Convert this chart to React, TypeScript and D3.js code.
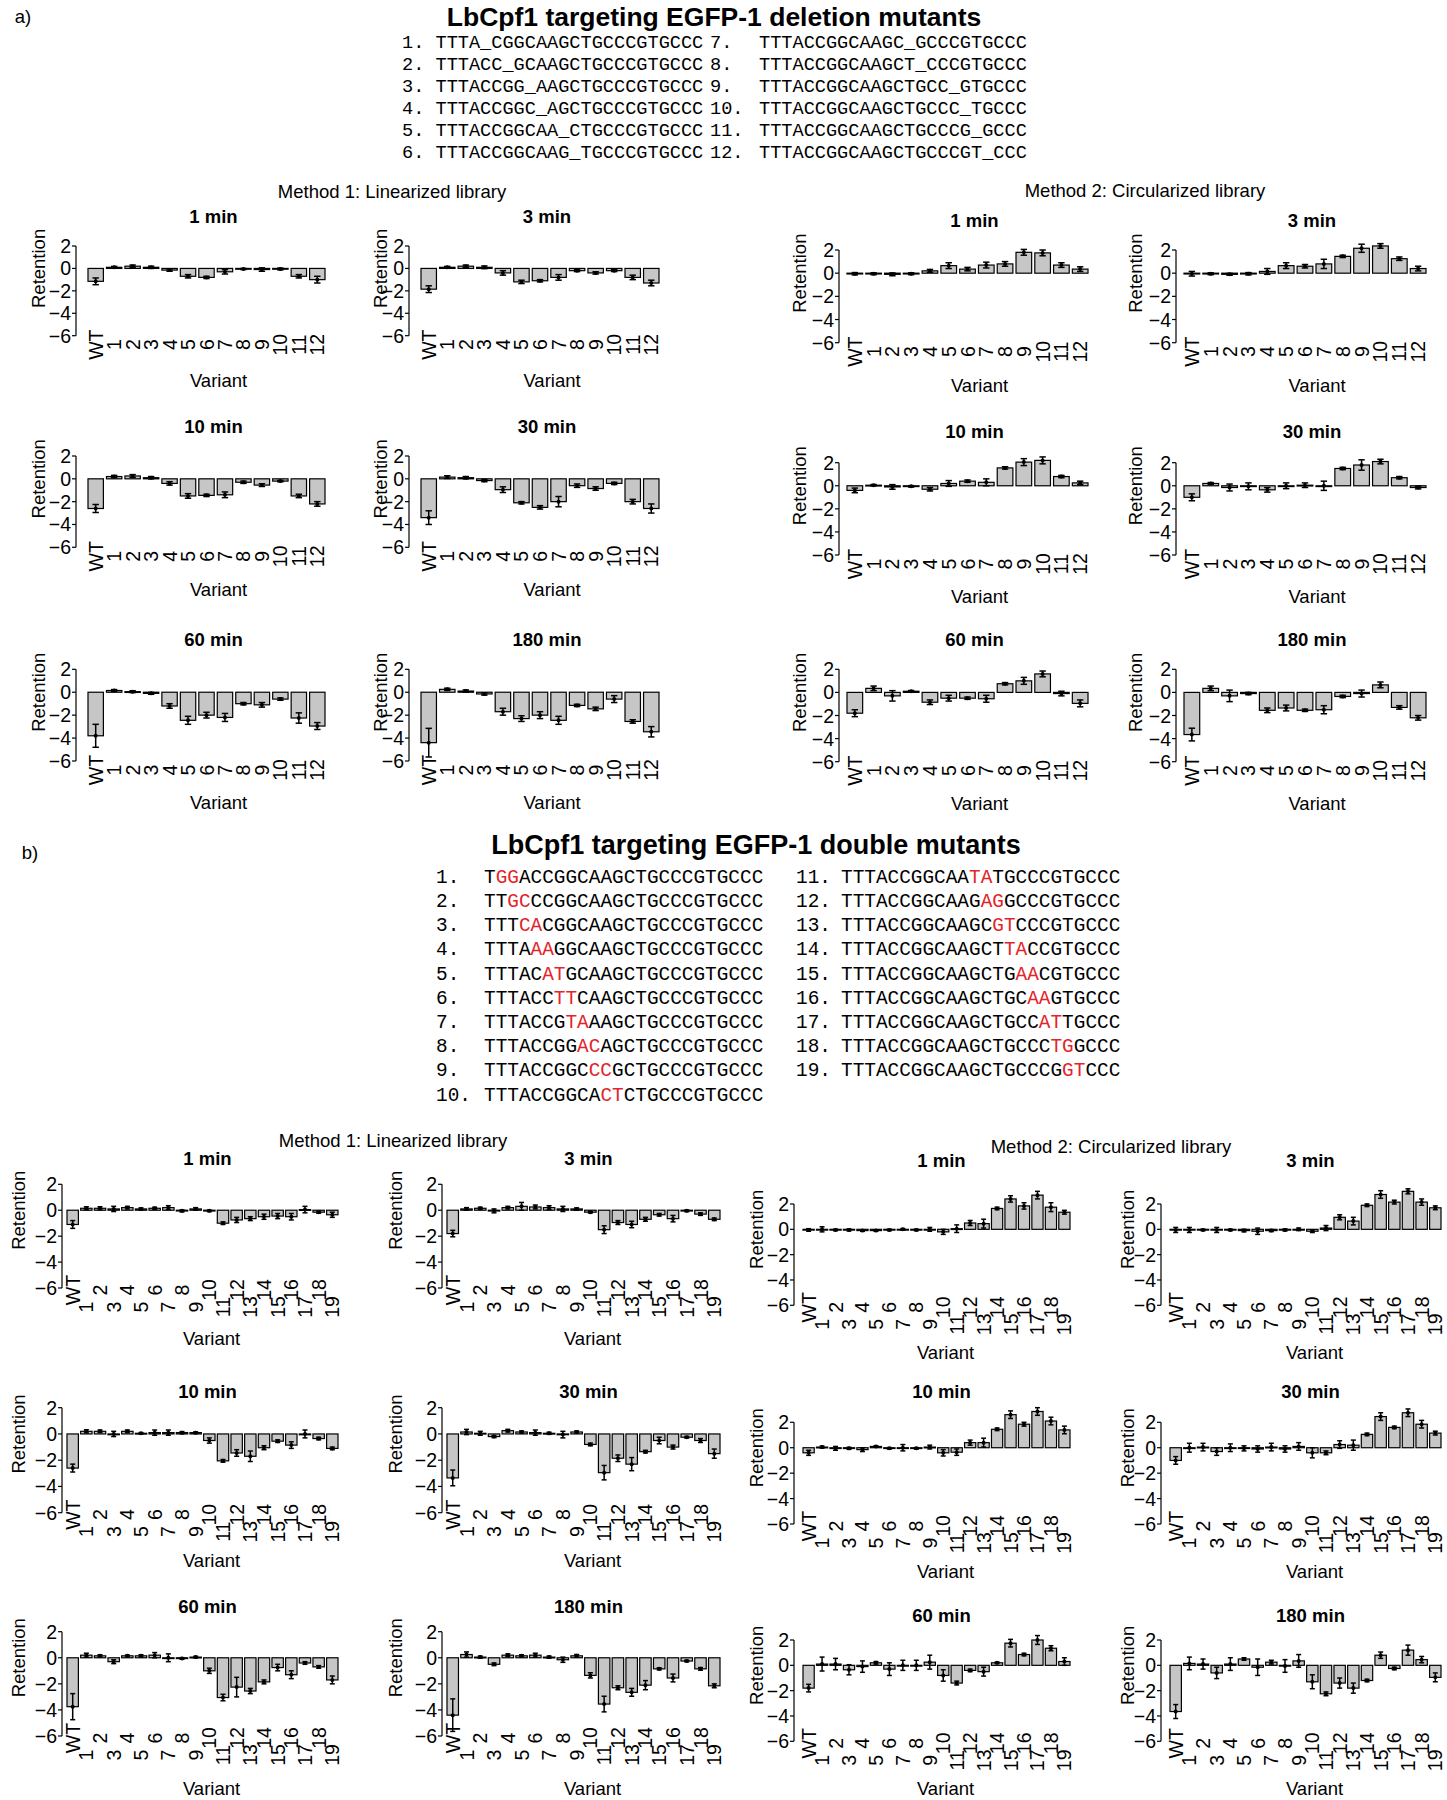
import React from "react";
import * as d3 from "d3";

// ---------- categories / labels ----------
const VARIANTS_A = ["WT", "1", "2", "3", "4", "5", "6", "7", "8", "9", "10", "11", "12"];
const VARIANTS_B = ["WT", "1", "2", "3", "4", "5", "6", "7", "8", "9", "10", "11", "12", "13", "14", "15", "16", "17", "18", "19"];
const Y_TICKS = [-6, -4, -2, 0, 2];
const TIMES = ["1 min", "3 min", "10 min", "30 min", "60 min", "180 min"];
const METHODS = ["Method 1: Linearized library", "Method 2: Circularized library"];

const DELETION_SEQS = [
  "TTTA_CGGCAAGCTGCCCGTGCCC",
  "TTTACC_GCAAGCTGCCCGTGCCC",
  "TTTACCGG_AAGCTGCCCGTGCCC",
  "TTTACCGGC_AGCTGCCCGTGCCC",
  "TTTACCGGCAA_CTGCCCGTGCCC",
  "TTTACCGGCAAG_TGCCCGTGCCC",
  "TTTACCGGCAAGC_GCCCGTGCCC",
  "TTTACCGGCAAGCT_CCCGTGCCC",
  "TTTACCGGCAAGCTGCC_GTGCCC",
  "TTTACCGGCAAGCTGCCC_TGCCC",
  "TTTACCGGCAAGCTGCCCG_GCCC",
  "TTTACCGGCAAGCTGCCCGT_CCC",
];

const DOUBLE_SEQS = [
  "TGGACCGGCAAGCTGCCCGTGCCC",
  "TTGCCCGGCAAGCTGCCCGTGCCC",
  "TTTCACGGCAAGCTGCCCGTGCCC",
  "TTTAAAGGCAAGCTGCCCGTGCCC",
  "TTTACATGCAAGCTGCCCGTGCCC",
  "TTTACCTTCAAGCTGCCCGTGCCC",
  "TTTACCGTAAAGCTGCCCGTGCCC",
  "TTTACCGGACAGCTGCCCGTGCCC",
  "TTTACCGGCCCGCTGCCCGTGCCC",
  "TTTACCGGCACTCTGCCCGTGCCC",
  "TTTACCGGCAATATGCCCGTGCCC",
  "TTTACCGGCAAGAGGCCCGTGCCC",
  "TTTACCGGCAAGCGTCCCGTGCCC",
  "TTTACCGGCAAGCTTACCGTGCCC",
  "TTTACCGGCAAGCTGAACGTGCCC",
  "TTTACCGGCAAGCTGCAAGTGCCC",
  "TTTACCGGCAAGCTGCCATTGCCC",
  "TTTACCGGCAAGCTGCCCTGGCCC",
  "TTTACCGGCAAGCTGCCCGGTCCC",
];
// 0-based index of the first mutated base (two bases are mutated)
const DOUBLE_MUT_START = [1, 2, 3, 4, 5, 6, 7, 8, 9, 10, 11, 12, 13, 14, 15, 16, 17, 18, 19];

// ---------- a) deletion mutants: values (WT,1..12) and error ----------
const A_M1_1 = [-1.15, 0.1, 0.2, 0.1, -0.15, -0.7, -0.8, -0.3, -0.05, -0.1, -0.05, -0.7, -1.0];
const A_M1_1_ERR = [0.3, 0.08, 0.1, 0.1, 0.1, 0.15, 0.1, 0.2, 0.05, 0.15, 0.08, 0.15, 0.3];
const A_M1_3 = [-1.85, 0.1, 0.2, 0.1, -0.4, -1.2, -1.1, -0.8, -0.2, -0.4, -0.2, -0.8, -1.3];
const A_M1_3_ERR = [0.3, 0.08, 0.1, 0.12, 0.2, 0.15, 0.1, 0.25, 0.08, 0.1, 0.08, 0.2, 0.25];
const A_M1_10 = [-2.6, 0.2, 0.25, 0.1, -0.4, -1.5, -1.45, -1.4, -0.3, -0.55, -0.2, -1.5, -2.2];
const A_M1_10_ERR = [0.35, 0.1, 0.12, 0.1, 0.15, 0.2, 0.1, 0.25, 0.1, 0.12, 0.06, 0.15, 0.2];
const A_M1_30 = [-3.4, 0.15, 0.1, -0.15, -0.95, -2.1, -2.5, -2.0, -0.6, -0.85, -0.4, -2.0, -2.6];
const A_M1_30_ERR = [0.6, 0.12, 0.1, 0.1, 0.25, 0.1, 0.15, 0.45, 0.15, 0.15, 0.1, 0.2, 0.4];
const A_M1_60 = [-3.8, 0.15, 0.05, -0.1, -1.2, -2.45, -2.0, -2.2, -1.0, -1.1, -0.6, -2.25, -2.95];
const A_M1_60_ERR = [1.0, 0.08, 0.08, 0.08, 0.2, 0.35, 0.25, 0.35, 0.1, 0.2, 0.1, 0.45, 0.3];
const A_M1_180 = [-4.4, 0.25, 0.1, -0.15, -1.7, -2.3, -2.0, -2.45, -1.15, -1.45, -0.6, -2.55, -3.45];
const A_M1_180_ERR = [1.25, 0.1, 0.1, 0.1, 0.3, 0.25, 0.3, 0.35, 0.1, 0.15, 0.3, 0.15, 0.45];

const A_M2_1 = [-0.05, -0.05, -0.1, -0.05, 0.2, 0.65, 0.35, 0.7, 0.8, 1.8, 1.75, 0.7, 0.35];
const A_M2_1_ERR = [0.1, 0.08, 0.12, 0.08, 0.12, 0.25, 0.15, 0.25, 0.2, 0.25, 0.25, 0.2, 0.2];
const A_M2_3 = [-0.05, -0.05, -0.1, -0.05, 0.15, 0.65, 0.6, 0.8, 1.45, 2.15, 2.35, 1.25, 0.4];
const A_M2_3_ERR = [0.2, 0.08, 0.08, 0.1, 0.25, 0.25, 0.15, 0.4, 0.1, 0.35, 0.2, 0.15, 0.2];
const A_M2_10 = [-0.4, 0.05, -0.1, -0.05, -0.3, 0.2, 0.4, 0.3, 1.55, 2.05, 2.2, 0.8, 0.25];
const A_M2_10_ERR = [0.2, 0.06, 0.2, 0.06, 0.15, 0.25, 0.1, 0.3, 0.1, 0.3, 0.3, 0.1, 0.15];
const A_M2_30 = [-1.0, 0.2, -0.15, -0.05, -0.35, 0.0, 0.05, 0.0, 1.5, 1.8, 2.1, 0.7, -0.15];
const A_M2_30_ERR = [0.3, 0.08, 0.3, 0.3, 0.2, 0.25, 0.2, 0.4, 0.1, 0.45, 0.2, 0.1, 0.12];
const A_M2_60 = [-1.8, 0.35, -0.3, 0.1, -0.85, -0.5, -0.5, -0.55, 0.75, 1.0, 1.6, -0.1, -0.95];
const A_M2_60_ERR = [0.3, 0.2, 0.45, 0.06, 0.2, 0.25, 0.1, 0.3, 0.1, 0.3, 0.25, 0.2, 0.3];
const A_M2_180 = [-3.65, 0.35, -0.3, -0.1, -1.55, -1.35, -1.55, -1.5, -0.35, -0.1, 0.65, -1.3, -2.2];
const A_M2_180_ERR = [0.55, 0.2, 0.5, 0.1, 0.2, 0.25, 0.1, 0.35, 0.1, 0.3, 0.25, 0.15, 0.2];

// ---------- b) double mutants: values (WT,1..19) and error ----------
const B_M1_1 = [-1.1, 0.15, 0.15, 0.1, 0.2, 0.1, 0.15, 0.2, -0.05, 0.1, -0.05, -1.0, -0.75, -0.65, -0.5, -0.45, -0.5, 0.05, -0.15, -0.35];
const B_M1_1_ERR = [0.3, 0.12, 0.12, 0.2, 0.1, 0.08, 0.08, 0.15, 0.08, 0.1, 0.06, 0.1, 0.2, 0.15, 0.2, 0.2, 0.25, 0.25, 0.08, 0.2];
const B_M1_3 = [-1.8, 0.1, 0.15, -0.05, 0.2, 0.3, 0.25, 0.2, 0.1, 0.1, -0.15, -1.5, -0.95, -1.1, -0.7, -0.35, -0.65, -0.05, -0.3, -0.7];
const B_M1_3_ERR = [0.25, 0.1, 0.08, 0.15, 0.1, 0.3, 0.15, 0.15, 0.2, 0.08, 0.06, 0.3, 0.15, 0.25, 0.15, 0.1, 0.25, 0.06, 0.1, 0.1];
const B_M1_10 = [-2.6, 0.2, 0.2, 0.0, 0.2, 0.05, 0.1, 0.1, 0.1, 0.1, -0.5, -2.05, -1.45, -1.7, -1.05, -0.55, -0.85, 0.0, -0.35, -1.1];
const B_M1_10_ERR = [0.3, 0.12, 0.1, 0.2, 0.1, 0.05, 0.2, 0.2, 0.08, 0.06, 0.2, 0.1, 0.25, 0.4, 0.15, 0.1, 0.25, 0.3, 0.1, 0.1];
const B_M1_30 = [-3.35, 0.15, 0.05, -0.2, 0.25, 0.15, 0.1, 0.05, -0.05, 0.15, -0.8, -2.95, -1.85, -2.3, -1.35, -0.5, -1.0, -0.25, -0.5, -1.5];
const B_M1_30_ERR = [0.6, 0.2, 0.15, 0.08, 0.1, 0.08, 0.2, 0.08, 0.25, 0.08, 0.1, 0.55, 0.25, 0.5, 0.1, 0.25, 0.15, 0.06, 0.15, 0.35];
const B_M1_60 = [-3.75, 0.2, 0.15, -0.3, 0.15, 0.15, 0.2, 0.0, -0.05, 0.05, -1.0, -3.05, -2.25, -2.55, -1.85, -0.75, -1.3, -0.4, -0.7, -1.7];
const B_M1_60_ERR = [1.0, 0.15, 0.08, 0.15, 0.06, 0.08, 0.2, 0.3, 0.06, 0.06, 0.2, 0.25, 0.75, 0.2, 0.15, 0.25, 0.3, 0.1, 0.1, 0.3];
const B_M1_180 = [-4.4, 0.25, 0.05, -0.5, 0.2, 0.15, 0.2, 0.05, -0.15, 0.15, -1.35, -3.55, -2.3, -2.65, -2.1, -0.85, -1.55, -0.25, -0.85, -2.15];
const B_M1_180_ERR = [1.25, 0.2, 0.08, 0.1, 0.1, 0.08, 0.15, 0.08, 0.2, 0.1, 0.2, 0.6, 0.15, 0.3, 0.35, 0.08, 0.3, 0.06, 0.1, 0.15];

const B_M2_1 = [-0.05, 0.0, -0.05, -0.05, -0.1, -0.1, -0.05, 0.0, -0.05, 0.0, -0.2, 0.05, 0.5, 0.45, 1.65, 2.4, 1.85, 2.7, 1.75, 1.35];
const B_M2_1_ERR = [0.1, 0.2, 0.06, 0.08, 0.06, 0.06, 0.06, 0.06, 0.06, 0.15, 0.2, 0.3, 0.2, 0.35, 0.1, 0.25, 0.25, 0.3, 0.35, 0.15];
const B_M2_3 = [-0.05, -0.05, -0.05, -0.05, -0.05, -0.1, -0.15, -0.1, -0.05, 0.0, -0.15, 0.1, 0.95, 0.65, 1.9, 2.75, 2.15, 3.0, 2.15, 1.7];
const B_M2_3_ERR = [0.2, 0.2, 0.06, 0.2, 0.06, 0.1, 0.25, 0.08, 0.08, 0.1, 0.1, 0.2, 0.2, 0.3, 0.1, 0.3, 0.15, 0.2, 0.25, 0.15];
const B_M2_10 = [-0.4, 0.05, -0.05, -0.05, -0.15, 0.1, -0.05, 0.0, -0.05, 0.05, -0.4, -0.35, 0.4, 0.4, 1.45, 2.6, 1.85, 2.85, 2.1, 1.4];
const B_M2_10_ERR = [0.2, 0.08, 0.15, 0.08, 0.15, 0.06, 0.06, 0.25, 0.06, 0.15, 0.25, 0.25, 0.2, 0.35, 0.1, 0.3, 0.15, 0.3, 0.3, 0.3];
const B_M2_30 = [-1.0, 0.0, 0.05, -0.3, 0.0, -0.05, -0.1, 0.05, -0.1, 0.1, -0.4, -0.4, 0.25, 0.2, 1.05, 2.45, 1.6, 2.75, 1.85, 1.15];
const B_M2_30_ERR = [0.3, 0.35, 0.3, 0.3, 0.3, 0.2, 0.25, 0.3, 0.25, 0.3, 0.4, 0.15, 0.3, 0.4, 0.1, 0.3, 0.1, 0.3, 0.3, 0.15];
const B_M2_60 = [-1.8, 0.1, 0.1, -0.35, -0.1, 0.2, -0.3, 0.0, 0.0, 0.25, -0.8, -1.4, -0.4, -0.5, 0.2, 1.75, 0.85, 2.0, 1.35, 0.3];
const B_M2_60_ERR = [0.3, 0.55, 0.45, 0.4, 0.45, 0.1, 0.5, 0.4, 0.4, 0.55, 0.45, 0.15, 0.1, 0.35, 0.06, 0.3, 0.1, 0.35, 0.2, 0.3];
const B_M2_180 = [-3.65, 0.15, 0.1, -0.6, 0.1, 0.5, -0.15, 0.25, -0.05, 0.35, -1.3, -2.25, -1.4, -1.8, -1.2, 0.8, -0.25, 1.2, 0.45, -0.95];
const B_M2_180_ERR = [0.55, 0.5, 0.4, 0.45, 0.5, 0.1, 0.65, 0.15, 0.5, 0.5, 0.55, 0.15, 0.4, 0.4, 0.1, 0.25, 0.1, 0.4, 0.25, 0.35];

const A_M1 = [[A_M1_1, A_M1_1_ERR], [A_M1_3, A_M1_3_ERR], [A_M1_10, A_M1_10_ERR], [A_M1_30, A_M1_30_ERR], [A_M1_60, A_M1_60_ERR], [A_M1_180, A_M1_180_ERR]];
const A_M2 = [[A_M2_1, A_M2_1_ERR], [A_M2_3, A_M2_3_ERR], [A_M2_10, A_M2_10_ERR], [A_M2_30, A_M2_30_ERR], [A_M2_60, A_M2_60_ERR], [A_M2_180, A_M2_180_ERR]];
const B_M1 = [[B_M1_1, B_M1_1_ERR], [B_M1_3, B_M1_3_ERR], [B_M1_10, B_M1_10_ERR], [B_M1_30, B_M1_30_ERR], [B_M1_60, B_M1_60_ERR], [B_M1_180, B_M1_180_ERR]];
const B_M2 = [[B_M2_1, B_M2_1_ERR], [B_M2_3, B_M2_3_ERR], [B_M2_10, B_M2_10_ERR], [B_M2_30, B_M2_30_ERR], [B_M2_60, B_M2_60_ERR], [B_M2_180, B_M2_180_ERR]];

// ---------- layout (pixels) ----------
const W = 1447;
const H = 1800;
const SANS = "'Liberation Sans', Arial, Helvetica, sans-serif";
const MONO = "'Liberation Mono', 'Courier New', Courier, monospace";
const BAR_FILL = "#c6c6c6";
const TICK_FS = 19.5;
const LAB_FS = 18.5;

const A_COLS = [
  { x0: 88, x1: 325, retX: 38, gap: 12 },
  { x0: 421, x1: 659, retX: 380, gap: 12 },
  { x0: 847, x1: 1088, retX: 799, gap: 8 },
  { x0: 1184, x1: 1426, retX: 1135, gap: 8 },
];
const A_ROWS_M1 = [
  { yTop: 246, yBot: 335.7, titleY: 216.7, varY: 380 },
  { yTop: 456, yBot: 547.3, titleY: 426, varY: 589.3 },
  { yTop: 669.3, yBot: 761, titleY: 639.3, varY: 802.7 },
];
const A_ROWS_M2 = [
  { yTop: 250, yBot: 342.7, titleY: 220, varY: 385 },
  { yTop: 462.7, yBot: 555, titleY: 431.7, varY: 596.7 },
  { yTop: 669.3, yBot: 761.7, titleY: 639.3, varY: 803 },
];
const B_COLS = [
  { x0: 67, x1: 338, retX: 18, gap: 5 },
  { x0: 447, x1: 720, retX: 395, gap: 5 },
  { x0: 803, x1: 1070, retX: 756, gap: 9 },
  { x0: 1170, x1: 1441, retX: 1127, gap: 9 },
];
const B_ROWS_M1 = [
  { yTop: 1184.3, yBot: 1288, titleY: 1158.7, varY: 1338 },
  { yTop: 1407.7, yBot: 1512.7, titleY: 1391.7, varY: 1560 },
  { yTop: 1631.7, yBot: 1736, titleY: 1606.7, varY: 1788 },
];
const B_ROWS_M2 = [
  { yTop: 1204, yBot: 1305.3, titleY: 1160, varY: 1352.8 },
  { yTop: 1422.3, yBot: 1524, titleY: 1391.7, varY: 1571 },
  { yTop: 1640, yBot: 1741.3, titleY: 1615, varY: 1788 },
];

type PanelSpec = {
  key: string;
  title: string;
  variants: string[];
  values: number[];
  errors: number[];
  x0: number;
  x1: number;
  yTop: number;
  yBot: number;
  retX: number;
  gap: number;
  titleY: number;
  varY: number;
  titleDx: number;
  varDx: number;
  stagger: boolean;
};

function buildPanels(): PanelSpec[] {
  const out: PanelSpec[] = [];
  const add = (sec: string, data: number[][][], cols: any[], rows: any[], colOffset: number, variants: string[], stagger: boolean) => {
    data.forEach(([vals, errs], t) => {
      const r = rows[Math.floor(t / 2)];
      const c = cols[colOffset + (t % 2)];
      out.push({
        key: sec + colOffset + "-" + t,
        title: TIMES[t],
        variants,
        values: vals,
        errors: errs,
        x0: c.x0,
        x1: c.x1,
        retX: c.retX,
        gap: c.gap,
        yTop: r.yTop,
        yBot: r.yBot,
        titleY: r.titleY,
        varY: r.varY,
        titleDx: stagger ? 5 : 7,
        varDx: stagger ? 9 : 12,
        stagger,
      });
    });
  };
  add("a", A_M1, A_COLS, A_ROWS_M1, 0, VARIANTS_A, false);
  add("a", A_M2, A_COLS, A_ROWS_M2, 2, VARIANTS_A, false);
  add("b", B_M1, B_COLS, B_ROWS_M1, 0, VARIANTS_B, true);
  add("b", B_M2, B_COLS, B_ROWS_M2, 2, VARIANTS_B, true);
  return out;
}

function Panel({ p }: { p: PanelSpec }) {
  const x = d3
    .scaleBand<string>()
    .domain(p.variants)
    .range([p.x0, p.x1])
    .paddingInner(0.2 / 1.2)
    .paddingOuter(0);
  const y = d3.scaleLinear().domain([-6, 2]).range([p.yBot, p.yTop]);
  const axisX = p.x0 - p.gap;
  const bw = x.bandwidth();
  const cap = Math.min(3.2, bw * 0.22);
  const cx = (p.x0 + p.x1) / 2;
  return (
    <g>
      {/* title */}
      <text x={cx + p.titleDx} y={p.titleY} dy="0.36em" textAnchor="middle" fontFamily={SANS} fontWeight="bold" fontSize={LAB_FS}>
        {p.title}
      </text>
      {/* y axis */}
      <line x1={axisX} x2={axisX} y1={y(2)} y2={y(-6)} stroke="#000" strokeWidth={1.2} />
      {Y_TICKS.map((t) => (
        <g key={t}>
          <line x1={axisX - 4} x2={axisX} y1={y(t)} y2={y(t)} stroke="#000" strokeWidth={1.2} />
          <text x={axisX - 5} y={y(t)} dy="0.36em" textAnchor="end" fontFamily={SANS} fontSize={TICK_FS}>
            {t < 0 ? "\u2212" + Math.abs(t) : String(t)}
          </text>
        </g>
      ))}
      <text
        transform={`translate(${p.retX},${y(0)}) rotate(-90)`}
        dy="0.36em"
        textAnchor="middle"
        fontFamily={SANS}
        fontSize={LAB_FS}
      >
        Retention
      </text>
      {/* bars */}
      {p.variants.map((v, i) => {
        const val = p.values[i];
        const bx = x(v) as number;
        const y0 = y(0);
        const y1 = y(val);
        return (
          <rect
            key={v}
            x={bx}
            width={bw}
            y={Math.min(y0, y1)}
            height={Math.max(0.8, Math.abs(y1 - y0))}
            fill={BAR_FILL}
            stroke="#000"
            strokeWidth={1.2}
          />
        );
      })}
      {/* error bars */}
      {p.variants.map((v, i) => {
        const val = p.values[i];
        const e = p.errors[i];
        const mx = (x(v) as number) + bw / 2;
        const yl = y(val - e);
        const yh = y(val + e);
        return (
          <g key={"e" + v} stroke="#000" strokeWidth={1.5}>
            <line x1={mx} x2={mx} y1={yl} y2={yh} />
            <line x1={mx - cap} x2={mx + cap} y1={yl} y2={yl} />
            <line x1={mx - cap} x2={mx + cap} y1={yh} y2={yh} />
            <circle cx={mx} cy={y(val)} r={2} fill="#000" stroke="none" />
          </g>
        );
      })}
      {/* x labels */}
      {p.variants.map((v, i) => {
        const mx = (x(v) as number) + bw / 2;
        const cy = p.stagger ? y(-6) + (i % 2 === 0 ? 2 : 19) : y(-6) + 9;
        return (
          <text
            key={"l" + v}
            transform={`translate(${mx},${cy}) rotate(-90)`}
            dy="0.36em"
            textAnchor="middle"
            fontFamily={SANS}
            fontSize={TICK_FS}
          >
            {v}
          </text>
        );
      })}
      <text x={cx + p.varDx} y={p.varY} dy="0.36em" textAnchor="middle" fontFamily={SANS} fontSize={LAB_FS}>
        Variant
      </text>
    </g>
  );
}

function DeletionSeqs() {
  const fs = 18.6;
  const cw = fs * 0.6;
  const rowY = (i: number) => 42.5 + 21.96 * i;
  return (
    <g fontFamily={MONO} fontSize={fs}>
      {DELETION_SEQS.map((s, i) => {
        const col = i < 6 ? 0 : 1;
        const r = i % 6;
        const lx = col === 0 ? 402 : 710;
        const sx = col === 0 ? 402 + 3 * cw : 759;
        return (
          <g key={i}>
            <text x={lx} y={rowY(r)} dy="0.32em">{`${i + 1}.`}</text>
            <text x={sx} y={rowY(r)} dy="0.32em">{s}</text>
          </g>
        );
      })}
    </g>
  );
}

function DoubleSeqs() {
  const fs = 19.4;
  const rowY = (i: number) => 876.5 + 24.2 * i;
  return (
    <g fontFamily={MONO} fontSize={fs}>
      {DOUBLE_SEQS.map((s, i) => {
        const col = i < 10 ? 0 : 1;
        const r = col === 0 ? i : i - 10;
        const lx = col === 0 ? 436 : 796;
        const sx = col === 0 ? 484 : 841;
        const m = DOUBLE_MUT_START[i];
        return (
          <g key={i}>
            <text x={lx} y={rowY(r)} dy="0.32em">{`${i + 1}.`}</text>
            <text x={sx} y={rowY(r)} dy="0.32em">
              <tspan>{s.slice(0, m)}</tspan>
              <tspan fill="#e3242b">{s.slice(m, m + 2)}</tspan>
              <tspan>{s.slice(m + 2)}</tspan>
            </text>
          </g>
        );
      })}
    </g>
  );
}

export default function App() {
  const panels = buildPanels();
  return (
    <svg
      width={W}
      height={H}
      viewBox={`0 0 ${W} ${H}`}
      style={{ position: "absolute", left: 0, top: 0, background: "#fff", display: "block" }}
    >
      <rect x={0} y={0} width={W} height={H} fill="#fff" />
      {/* section a */}
      <text x={23} y={16} dy="0.36em" textAnchor="middle" fontFamily={SANS} fontSize={LAB_FS}>a)</text>
      <text x={714} y={16} dy="0.36em" textAnchor="middle" fontFamily={SANS} fontWeight="bold" fontSize={26.5}>
        LbCpf1 targeting EGFP-1 deletion mutants
      </text>
      <DeletionSeqs />
      <text x={392} y={191.5} dy="0.36em" textAnchor="middle" fontFamily={SANS} fontSize={LAB_FS}>{METHODS[0]}</text>
      <text x={1145} y={190.7} dy="0.36em" textAnchor="middle" fontFamily={SANS} fontSize={LAB_FS}>{METHODS[1]}</text>

      {/* section b */}
      <text x={30} y={852} dy="0.36em" textAnchor="middle" fontFamily={SANS} fontSize={LAB_FS}>b)</text>
      <text x={756} y={844} dy="0.36em" textAnchor="middle" fontFamily={SANS} fontWeight="bold" fontSize={27}>
        LbCpf1 targeting EGFP-1 double mutants
      </text>
      <DoubleSeqs />
      <text x={393} y={1140} dy="0.36em" textAnchor="middle" fontFamily={SANS} fontSize={LAB_FS}>{METHODS[0]}</text>
      <text x={1111} y={1146} dy="0.36em" textAnchor="middle" fontFamily={SANS} fontSize={LAB_FS}>{METHODS[1]}</text>

      {panels.map((p) => (
        <Panel key={p.key} p={p} />
      ))}
    </svg>
  );
}
